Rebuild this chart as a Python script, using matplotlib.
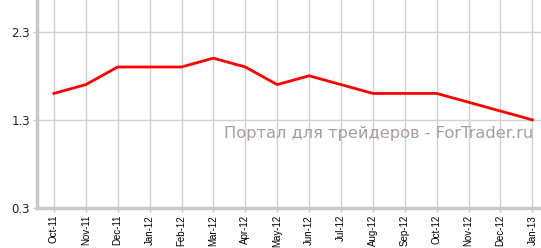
import matplotlib
matplotlib.use("Agg")
import matplotlib.pyplot as plt

# monthly values, Oct-11 .. Jan-13
months = ["Oct-11", "Nov-11", "Dec-11", "Jan-12", "Feb-12", "Mar-12", "Apr-12",
          "May-12", "Jun-12", "Jul-12", "Aug-12", "Sep-12", "Oct-12", "Nov-12",
          "Dec-12", "Jan-13"]
values = [1.6, 1.7, 1.9, 1.9, 1.9, 2.0, 1.9, 1.7, 1.8, 1.7, 1.6, 1.6, 1.6, 1.5, 1.4, 1.3]
y_ticks = [0.3, 1.3, 2.3]

fig = plt.figure(figsize=(5.41, 2.48), dpi=100)
ax = fig.add_axes([37 / 541, 40 / 248, 1 - 37 / 541, 208 / 248])

x = list(range(len(values)))
ax.plot(x, values, color="#ff0000", linewidth=2, zorder=3)

ax.set_xlim(-0.53, 15.27)
ax.set_ylim(0.3, 2.66)
ax.set_xticks(x)
ax.set_xticklabels(months, rotation=90, fontsize=7, family="Liberation Sans")
ax.set_yticks(y_ticks)
ax.set_yticklabels([str(v) for v in y_ticks], fontsize=8.5, color="#222222")

ax.grid(True, color="#d0d0d0", linewidth=1)
ax.set_axisbelow(True)
for side in ["top", "right"]:
    ax.spines[side].set_visible(False)
for side in ["left", "bottom"]:
    ax.spines[side].set_color("#c8c8c8")
    ax.spines[side].set_linewidth(2.5)
ax.tick_params(axis="both", color="#c8c8c8", length=3, width=1, pad=2)

ax.text(0.984, 0.356, "Портал для трейдеров - ForTrader.ru", transform=ax.transAxes,
        ha="right", va="center", fontsize=11.7, color="#aa9c9c", zorder=4)

fig.savefig("out.png", dpi=100)
